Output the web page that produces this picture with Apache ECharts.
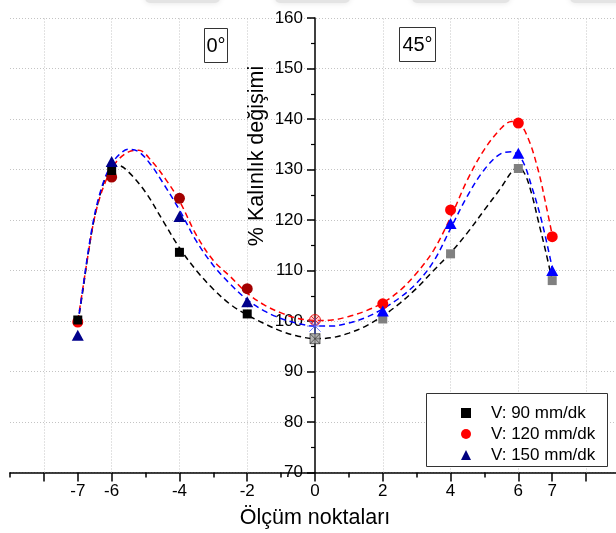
<!DOCTYPE html>
<html>
<head>
<meta charset="utf-8">
<script src="https://cdn.jsdelivr.net/npm/echarts@6/dist/echarts.min.js"></script>
<style>
  html, body { margin: 0; padding: 0; background: #fff; }
  #chart { width: 616px; height: 533px; }
</style>
</head>
<body>
<div id="chart"></div>
<script>
// Measurement positions along the part and axis tick sets
const positions0 = [-7, -6, -4, -2];
const positions45 = [2, 4, 6, 7];
const centerPosition = 0;
const xLabelTicks = [-7, -6, -4, -2, 0, 2, 4, 6, 7];
const xMajorTicks = [-8, -7, -6, -4, -2, 0, 2, 4, 6, 7, 8];
const xGridLines = [-8, -6, -4, -2, 2, 4, 6, 8];

const seriesNames = ['V: 90 mm/dk', 'V: 120 mm/dk', 'V: 150 mm/dk'];

// Thickness change (%) on the 0° side
const v90_0 = [100.2, 129.8, 113.6, 101.4];
const v120_0 = [99.8, 128.5, 124.3, 106.4];
const v150_0 = [97.2, 131.6, 120.7, 103.8];
// Thickness change (%) on the 45° side
const v90_45 = [100.4, 113.3, 130.2, 108.0];
const v120_45 = [103.4, 122.0, 139.2, 116.7];
const v150_45 = [102.0, 119.3, 133.2, 110.0];
// Centre point, order: 90, 120, 150 mm/dk
const vCenter = [96.5, 100.2, 99.0];

// Fitted trend curves [position, %]
const fit90 = [[-7,99.5],[-6.85,106],[-6.7,113],[-6.55,119],[-6.4,123.5],[-6.2,128],[-6.0,130.3],[-5.8,130.8],[-5.5,129.5],[-5.0,125.5],[-4.5,120],[-4.0,114.5],[-3.5,110],[-3.0,106.3],[-2.5,103.3],[-2.0,101.2],[-1.5,99.5],[-1.0,98],[-0.5,97],[0,96.5],[0.5,96.7],[1.0,97.6],[1.5,99],[2.0,101],[2.5,103.5],[3.0,106.5],[3.5,110],[4.0,113.5],[4.5,117.5],[5.0,122],[5.5,126.5],[5.8,129.5],[6.0,130.5],[6.2,129],[6.4,125],[6.6,119.5],[6.8,114],[7.0,108]];
const fit120 = [[-7,100],[-6.85,106.5],[-6.7,113],[-6.55,119],[-6.4,123.3],[-6.2,127.3],[-6.0,130],[-5.8,132],[-5.5,133.5],[-5.2,133.8],[-4.8,131.5],[-4.4,128],[-4.0,123.8],[-3.5,117],[-3.0,112],[-2.5,108.8],[-2.0,105.5],[-1.5,103.2],[-1.0,101.6],[-0.5,100.5],[0,100.1],[0.5,100.2],[1.0,100.9],[1.5,102],[2.0,103.6],[2.5,106],[3.0,109.5],[3.5,114],[4.0,120.5],[4.5,128],[5.0,134],[5.5,138.2],[5.8,139.5],[6.0,139.3],[6.3,136],[6.6,129.5],[6.8,123.5],[7.0,117]];
const fit150 = [[-7,99.5],[-6.85,106.5],[-6.7,113.5],[-6.55,119.5],[-6.4,124],[-6.2,128.3],[-6.0,131],[-5.8,132.8],[-5.5,134],[-5.2,133.5],[-4.85,131],[-4.5,127.5],[-4.0,122],[-3.5,115.8],[-3.0,111],[-2.5,107.3],[-2.0,104.2],[-1.5,102],[-1.0,100.5],[-0.5,99.5],[0,99],[0.5,99],[1.0,99.6],[1.5,100.7],[2.0,102.4],[2.5,104.6],[3.0,107.5],[3.5,111.8],[4.0,118.3],[4.5,124.8],[5.0,130],[5.5,133.2],[5.8,133.5],[6.1,132],[6.4,126.5],[6.7,119.5],[7.0,110.5]];

const FONT = "'Liberation Sans', Arial, sans-serif";
const pairs = (xs, ys) => xs.map((x, i) => [x, ys[i]]);

const fitLine = (data, color) => ({
  type: 'line', data, smooth: 0.35, symbol: 'none', silent: true, z: 2,
  lineStyle: { color, width: 1.5, type: [6, 4] }
});

const scatter = (name, data, symbol, size, color, z) => ({
  type: 'scatter', name, data, symbol, symbolSize: size, z,
  itemStyle: { color, opacity: 1 }, silent: true
});

// plot area: x from -9 to 9, the value axis sits on x = 0
const GRID_LEFT = 10;
const GRID_RIGHT_EDGE = 620;
const xZeroOffset = (GRID_RIGHT_EDGE - GRID_LEFT) / 2;

const chart = echarts.init(document.getElementById('chart'), null, { renderer: 'canvas' });

const gridStyle = { color: '#c4c4c4', type: [1, 2], width: 1 };

chart.setOption({
  animation: false,
  backgroundColor: '#fff',
  textStyle: { fontFamily: FONT },
  grid: {
    left: GRID_LEFT, width: GRID_RIGHT_EDGE - GRID_LEFT, top: 18, bottom: 60.5,
    containLabel: false, outerBoundsMode: 'none'
  },
  xAxis: [
    {
      type: 'value', min: -9, max: 9, interval: 1, position: 'bottom',
      axisLine: { onZero: false, lineStyle: { color: '#000', width: 1.5 } },
      axisTick: { show: true, length: 9, customValues: xMajorTicks, lineStyle: { color: '#000', width: 1.5 } },
      axisLabel: { customValues: xLabelTicks, margin: 10, fontSize: 17, color: '#000', fontFamily: FONT },
      splitLine: { show: false },
      name: 'Ölçüm noktaları', nameLocation: 'middle', nameGap: 35,
      nameTextStyle: { fontSize: 21.5, color: '#000', fontFamily: FONT }
    },
    {
      type: 'value', min: -9, max: 9, interval: 1, position: 'bottom',
      axisLine: { show: false, onZero: false },
      axisTick: { show: true, length: 5, lineStyle: { color: '#000', width: 1.5 } },
      axisLabel: { show: false },
      splitLine: { show: false }
    }
  ],
  yAxis: {
    type: 'value', min: 70, max: 160, interval: 10,
    position: 'left', offset: -xZeroOffset,
    axisLine: { onZero: false, lineStyle: { color: '#000', width: 1.5 } },
    axisTick: { show: true, length: 8, lineStyle: { color: '#000', width: 1.5 } },
    minorTick: { show: true, splitNumber: 2, length: 4, lineStyle: { color: '#000', width: 1.2 } },
    axisLabel: { margin: 12, fontSize: 17, color: '#000', fontFamily: FONT },
    splitLine: { show: true, lineStyle: gridStyle }
  },
  legend: {
    orient: 'vertical', left: 461, top: 404.5, padding: 0,
    itemWidth: 10, itemHeight: 10, itemGap: 4, selectedMode: false,
    textStyle: { fontSize: 17, lineHeight: 17, color: '#000', fontFamily: FONT, padding: [0, 0, 0, 15] },
    data: [
      { name: seriesNames[0], icon: 'rect', itemStyle: { color: '#000' } },
      { name: seriesNames[1], icon: 'circle', itemStyle: { color: '#ff0000' } },
      { name: seriesNames[2], icon: 'triangle', itemStyle: { color: '#000080' } }
    ]
  },
  graphic: [
    // soft grey band along the top edge
    { type: 'rect', shape: { x: 145, y: -7, width: 75, height: 10, r: 5 }, style: { fill: '#e4e4e4', shadowBlur: 6, shadowColor: '#e4e4e4' }, z: 1 },
    { type: 'rect', shape: { x: 275, y: -7, width: 75, height: 10, r: 5 }, style: { fill: '#e4e4e4', shadowBlur: 6, shadowColor: '#e4e4e4' }, z: 1 },
    { type: 'rect', shape: { x: 412, y: -7, width: 98, height: 10, r: 5 }, style: { fill: '#e4e4e4', shadowBlur: 6, shadowColor: '#e4e4e4' }, z: 1 },
    { type: 'rect', shape: { x: 570, y: -7, width: 60, height: 10, r: 5 }, style: { fill: '#e4e4e4', shadowBlur: 6, shadowColor: '#e4e4e4' }, z: 1 },
    // legend frame
    { type: 'rect', shape: { x: 426.5, y: 393.5, width: 181, height: 73 }, style: { fill: '#fff', stroke: '#333', lineWidth: 1 }, z: 3 },
    // section labels
    { type: 'rect', shape: { x: 204.5, y: 28.5, width: 23, height: 34 }, style: { fill: '#fff', stroke: '#333', lineWidth: 1 }, z: 3 },
    { type: 'text', x: 216, y: 46, style: { text: '0°', fontSize: 20, fontFamily: FONT, fill: '#000', textAlign: 'center', textVerticalAlign: 'middle' }, z: 4 },
    { type: 'rect', shape: { x: 399.5, y: 27.5, width: 36, height: 34 }, style: { fill: '#fff', stroke: '#333', lineWidth: 1 }, z: 3 },
    { type: 'text', x: 417.5, y: 45, style: { text: '45°', fontSize: 20, fontFamily: FONT, fill: '#000', textAlign: 'center', textVerticalAlign: 'middle' }, z: 4 },
    // y axis title
    { type: 'text', x: 257, y: 156, rotation: Math.PI / 2, style: { text: '% Kalınlık değişimi', fontSize: 21.5, fontFamily: FONT, fill: '#000', textAlign: 'center', textVerticalAlign: 'middle' }, z: 4 }
  ],
  series: [
    Object.assign(fitLine(fit90, '#000'), {
      markLine: {
        silent: true, symbol: 'none', label: { show: false }, z: 1,
        lineStyle: gridStyle, emphasis: { disabled: true },
        data: xGridLines.map(v => ({ xAxis: v }))
      }
    }),
    fitLine(fit120, '#ff0000'),
    fitLine(fit150, '#0000ff'),

    // 0° side markers
    scatter(seriesNames[1], pairs(positions0, v120_0), 'circle', 11,
      p => (p.dataIndex === 0 ? '#ff0000' : '#a30000'), 5),
    scatter(seriesNames[0], pairs(positions0, v90_0), 'rect', 9, '#000', 6),
    scatter(seriesNames[2], pairs(positions0, v150_0), 'triangle', [12, 11], '#00008b', 7),

    // 45° side markers
    scatter(seriesNames[1], pairs(positions45, v120_45), 'circle', 11, '#ff0000', 5),
    scatter(seriesNames[0], pairs(positions45, v90_45), 'rect', 9, '#808080', 6),
    scatter(seriesNames[2], pairs(positions45, v150_45), 'triangle', [12, 11], '#0000ff', 7),

    // centre point, shared by both sides
    {
      type: 'scatter', data: [[centerPosition, vCenter[0]]], z: 8, silent: true,
      symbol: 'path://M0,0H10V10H0Z M0,0L10,10 M10,0L0,10', symbolSize: 10,
      itemStyle: { color: '#a0a0a0', borderColor: '#222', borderWidth: 0.8 }
    },
    {
      type: 'scatter', data: [[centerPosition, vCenter[1]]], z: 8, silent: true,
      symbol: 'path://M10,5A5,5,0,1,1,0,5A5,5,0,1,1,10,5Z M1.5,1.5L8.5,8.5 M8.5,1.5L1.5,8.5', symbolSize: 11,
      itemStyle: { color: 'rgba(255,80,80,0.35)', borderColor: '#e00000', borderWidth: 1 }
    },
    {
      type: 'scatter', data: [[centerPosition, vCenter[2]]], z: 9, silent: true,
      symbol: 'path://M5,0V10 M0,5H10 M1.5,1.5L8.5,8.5 M8.5,1.5L1.5,8.5', symbolSize: 16,
      itemStyle: { color: 'rgba(0,0,0,0)', borderColor: '#4a5cff', borderWidth: 1 }
    }
  ]
});
</script>
</body>
</html>
